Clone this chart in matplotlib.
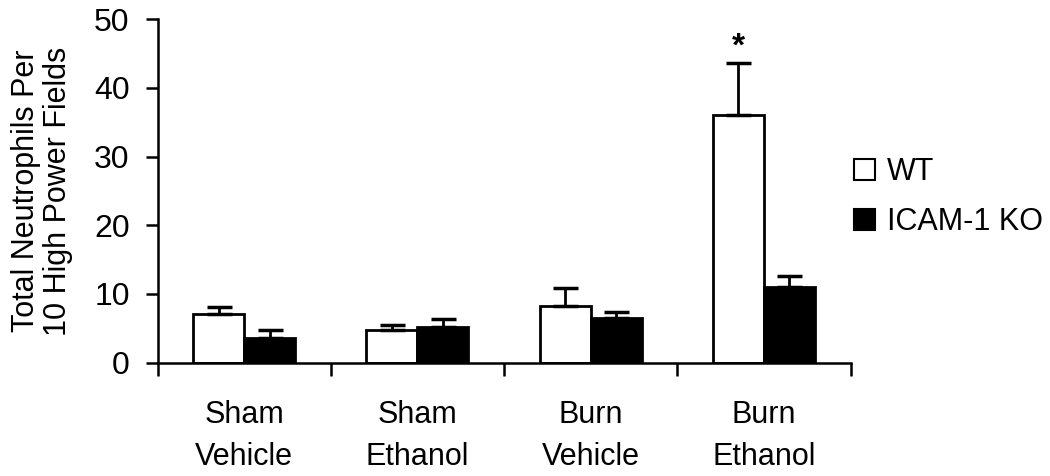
import matplotlib
matplotlib.use("Agg")
import matplotlib.pyplot as plt
import numpy as np
from matplotlib.patches import Patch

plt.rcParams['font.family'] = ['Liberation Sans', 'DejaVu Sans']

categories = ["Sham\nVehicle", "Sham\nEthanol", "Burn\nVehicle", "Burn\nEthanol"]
wt_values = [7.1, 4.8, 8.3, 36.1]
wt_err = [1.0, 0.7, 2.6, 7.5]
ko_values = [3.6, 5.2, 6.45, 11.0]
ko_err = [1.2, 1.2, 0.9, 1.55]
series_names = ["WT", "ICAM-1 KO"]
y_ticks = [0, 10, 20, 30, 40, 50]

FS = 22

fig = plt.figure(figsize=(10.5, 4.76), dpi=100)
ax = fig.add_axes([0.150, 0.238, 0.660, 0.722])

x = np.arange(len(categories))
w = 0.295
err_kw = dict(elinewidth=2, capsize=9, capthick=2.5, ecolor='black')
ax.bar(x - w / 2, wt_values, w, color='white', edgecolor='black', linewidth=2,
       yerr=[np.zeros(len(wt_err)), wt_err], error_kw=err_kw, zorder=2)
ax.bar(x + w / 2, ko_values, w, color='black', edgecolor='black', linewidth=2,
       yerr=[np.zeros(len(ko_err)), ko_err], error_kw=err_kw, zorder=2)

ax.text(x[3] - w / 2, wt_values[3] + wt_err[3] + 2.3, "*", ha='center', va='center',
        fontsize=24, fontweight='bold')

ax.set_xlim(-0.5, len(categories) - 0.5)
ax.set_ylim(0, 50)
ax.set_yticks(y_ticks)
ax.set_yticklabels([str(t) for t in y_ticks], fontsize=23)
ax.set_xticks(np.arange(len(categories) + 1) - 0.5)
ax.set_xticklabels([])
ax.set_xticks(x, minor=True)
ax.set_xticklabels(categories, minor=True, fontsize=FS, linespacing=1.5)
ax.tick_params(axis='x', which='minor', length=0, pad=27)
ax.tick_params(axis='x', which='major', direction='out', length=9, width=1.8)
ax.tick_params(axis='y', direction='out', length=9, width=1.8, pad=11)

for s in ['top', 'right']:
    ax.spines[s].set_visible(False)
for s in ['left', 'bottom']:
    ax.spines[s].set_linewidth(1.8)

ax.set_ylabel("Total Neutrophils Per\n10 High Power Fields", fontsize=FS, labelpad=15,
              linespacing=1.1)

handles = [Patch(facecolor='white', edgecolor='black', linewidth=1.5),
           Patch(facecolor='black', edgecolor='black', linewidth=1.5)]
fig.legend(handles, series_names, loc='center left', bbox_to_anchor=(0.787, 0.586),
           frameon=False, fontsize=FS, handlelength=0.68, handleheight=0.68,
           handletextpad=0.4, labelspacing=0.65)

fig.savefig("out.png", dpi=100)
